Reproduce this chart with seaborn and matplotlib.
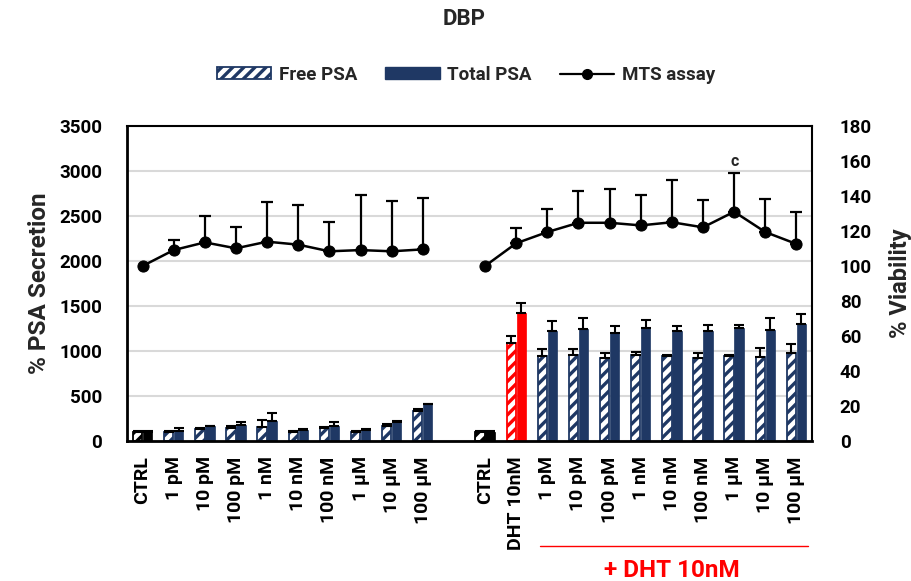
import numpy as np
import pandas as pd
import seaborn as sns
import matplotlib
matplotlib.use("Agg")
import matplotlib.pyplot as plt
from matplotlib.patches import Patch
from matplotlib.lines import Line2D
import matplotlib.transforms as mtransforms

# ---------------- data ----------------
labels_left = ['CTRL', '1 pM', '10 pM', '100 pM', '1 nM', '10 nM', '100 nM', '1 µM', '10 µM', '100 µM']
labels_right = ['CTRL', 'DHT 10nM', '1 pM', '10 pM', '100 pM', '1 nM', '10 nM', '100 nM', '1 µM', '10 µM', '100 µM']

free_left = [100, 95, 130, 148, 156, 100, 141, 100, 170, 337]
free_left_err = [8, 19, 11, 15, 77, 11, 18, 11, 15, 15]
total_left = [100, 114, 163, 174, 219, 126, 170, 126, 211, 407]
total_left_err = [8, 27, 6, 33, 88, 7, 41, 11, 15, 8]

free_right = [100, 1092, 948, 952, 922, 952, 948, 922, 944, 930, 981]
free_right_err = [8, 75, 71, 67, 52, 41, 12, 52, 8, 107, 97]
total_right = [100, 1426, 1222, 1248, 1196, 1252, 1222, 1219, 1256, 1230, 1300]
total_right_err = [8, 104, 111, 119, 85, 92, 56, 74, 37, 133, 107]

mts_left = [100, 109.1, 113.5, 110.1, 113.9, 112.2, 108.4, 109.1, 108.4, 109.5]
mts_left_err = [0, 5.8, 15.1, 12.4, 22.9, 22.7, 16.9, 31.3, 28.7, 29.5]
mts_right = [100, 113.0, 119.4, 124.7, 124.7, 123.2, 125.0, 122.1, 131.0, 119.4, 112.6]
mts_right_err = [0, 8.9, 13.0, 18.2, 19.1, 17.4, 24.1, 15.4, 22.0, 18.7, 18.1]

sig_label = 'c'
sig_index_right = 8  # 1 µM (+DHT)

# ---------------- styling ----------------
NAVY = '#1F3864'
RED = '#FF0000'
FONT = ['Roboto', 'DejaVu Sans']

sns.set_theme(style='white')
plt.rcParams['font.family'] = FONT
plt.rcParams['font.weight'] = 'bold'
plt.rcParams['axes.labelweight'] = 'bold'
plt.rcParams['hatch.linewidth'] = 2.4

left_keys = [f'L{i}' for i in range(len(labels_left))]
right_keys = [f'R{i}' for i in range(len(labels_right))]
order = left_keys + ['GAP'] + right_keys
tick_labels = labels_left + [''] + labels_right

rows = []
for k, f, t in zip(left_keys + right_keys, free_left + free_right, total_left + total_right):
    rows.append((k, 'Free PSA', f))
    rows.append((k, 'Total PSA', t))
df = pd.DataFrame(rows, columns=['cond', 'type', 'psa'])

err_map = {}
for k, fe, te in zip(left_keys + right_keys, free_left_err + free_right_err, total_left_err + total_right_err):
    err_map[(k, 'Free PSA')] = fe
    err_map[(k, 'Total PSA')] = te

fig = plt.figure(figsize=(9.12, 5.81), dpi=100)
ax = fig.add_axes([127 / 912, 140 / 581, 685 / 912, 315 / 581])

sns.barplot(data=df, x='cond', y='psa', hue='type', order=order,
            hue_order=['Free PSA', 'Total PSA'], palette=[NAVY, NAVY],
            width=0.64, gap=0.06, errorbar=None, legend=False, ax=ax)

ctrl_keys = {left_keys[0], right_keys[0]}
dht_key = right_keys[1]
ex, ey, ee = [], [], []
for p in ax.patches:
    h = p.get_height()
    if not np.isfinite(h) or h <= 0:
        continue
    cx = p.get_x() + p.get_width() / 2
    idx = int(round(cx))
    key = order[idx]
    kind = 'Free PSA' if cx < idx else 'Total PSA'
    if key in ctrl_keys:
        col = 'black'
    elif key == dht_key:
        col = RED
    else:
        col = NAVY
    if kind == 'Free PSA':
        p.set_facecolor('white')
        p.set_edgecolor(col)
        p.set_hatch('///')
        p.set_linewidth(1.3)
    else:
        p.set_facecolor(col)
        p.set_edgecolor(col)
        p.set_linewidth(0.5)
    ex.append(cx)
    ey.append(h)
    ee.append(err_map[(key, kind)])

ex = np.array(ex); ey = np.array(ey); ee = np.array(ee)
ax.errorbar(ex, ey, yerr=[np.zeros_like(ee), ee], fmt='none', ecolor='black',
            elinewidth=1.5, capsize=3.5, capthick=1.5, zorder=3)

ax.set_ylim(0, 3500)
ax.set_yticks(np.arange(0, 3501, 500))
ax.set_xlim(-0.5, len(order) - 0.5)
ax.set_xticks(range(len(order)))
ax.set_xticklabels(tick_labels, rotation=90, fontsize=14, fontweight='bold', family=FONT)
ax.tick_params(axis='x', length=0, pad=11, colors='black')
ax.tick_params(axis='y', length=0, pad=18, labelsize=13.5, colors='black')
for t in ax.get_yticklabels():
    t.set_fontweight('bold')
ax.yaxis.grid(True, color='#D9D9D9', lw=1.5)
ax.set_axisbelow(True)
ax.set_xlabel('')
ax.set_ylabel('% PSA Secretion', fontsize=17.5, fontweight='bold', family=FONT, labelpad=6)
for s in ['left', 'bottom']:
    ax.spines[s].set_linewidth(2.0)
    ax.spines[s].set_color('black')
for s in ['top', 'right']:
    ax.spines[s].set_linewidth(1.5)
    ax.spines[s].set_color('black')

# ---------------- MTS line on twin axis ----------------
ax2 = ax.twinx()
xl = np.array([order.index(k) for k in left_keys])
xr = np.array([order.index(k) for k in right_keys])
for xs, ys, es in [(xl, mts_left, mts_left_err), (xr, mts_right, mts_right_err)]:
    ys = np.array(ys); es = np.array(es)
    sns.lineplot(x=xs, y=ys, ax=ax2, color='black', marker='o', markersize=8,
                 markeredgecolor='black', lw=1.8, legend=False)
    m = es > 0
    ax2.errorbar(xs[m], ys[m], yerr=[np.zeros(m.sum()), es[m]], fmt='none',
                 ecolor='black', elinewidth=1.6, capsize=4.5, capthick=1.6)

ax2.annotate(sig_label, (xr[sig_index_right], mts_right[sig_index_right] + mts_right_err[sig_index_right]),
             xytext=(0, 3), textcoords='offset points', ha='center', va='bottom',
             fontsize=11.5, fontweight='bold', family=FONT)
ax2.set_ylim(0, 180)
ax2.set_yticks(np.arange(0, 181, 20))
ax2.tick_params(axis='y', length=0, pad=20, labelsize=13.5, colors='black')
for t in ax2.get_yticklabels():
    t.set_fontweight('bold')
ax2.set_ylabel('% Viability', fontsize=17, fontweight='bold', family=FONT, labelpad=12)
for s in ax2.spines.values():
    s.set_visible(False)
ax.set_xlim(-0.5, len(order) - 0.5)

# ---------------- DHT bracket annotation ----------------
trans = mtransforms.blended_transform_factory(ax.transData, ax.transAxes)
x0 = order.index(right_keys[2]) - 0.25
x1 = order.index(right_keys[-1]) + 0.37
ax.add_line(Line2D([x0, x1], [-0.333, -0.333], transform=trans, color=RED, lw=1.0, clip_on=False))
ax.text((order.index(right_keys[2]) + order.index(right_keys[-1])) / 2, -0.41, '+ DHT 10nM',
        transform=trans, ha='center', va='center', color=RED, fontsize=17.5, fontweight='bold', family=FONT)

# ---------------- title & legend ----------------
fig.text(464 / 912, 1 - 19 / 581, 'DBP', ha='center', va='center', fontsize=16,
         fontweight='bold', family=FONT)
handles = [Patch(facecolor='white', edgecolor=NAVY, hatch='///', lw=1.3),
           Patch(facecolor=NAVY, edgecolor=NAVY),
           Line2D([0], [0], color='black', marker='o', lw=1.6, markersize=7)]
fig.legend(handles, ['Free PSA', 'Total PSA', 'MTS assay'], loc='center',
           bbox_to_anchor=(466 / 912, 1 - 75 / 581), ncol=3, frameon=False,
           prop={'family': FONT, 'size': 13.5, 'weight': 'bold'}, handlelength=2.9, handleheight=0.6,
           columnspacing=1.5, handletextpad=0.4)

fig.savefig('out.png', dpi=100)
